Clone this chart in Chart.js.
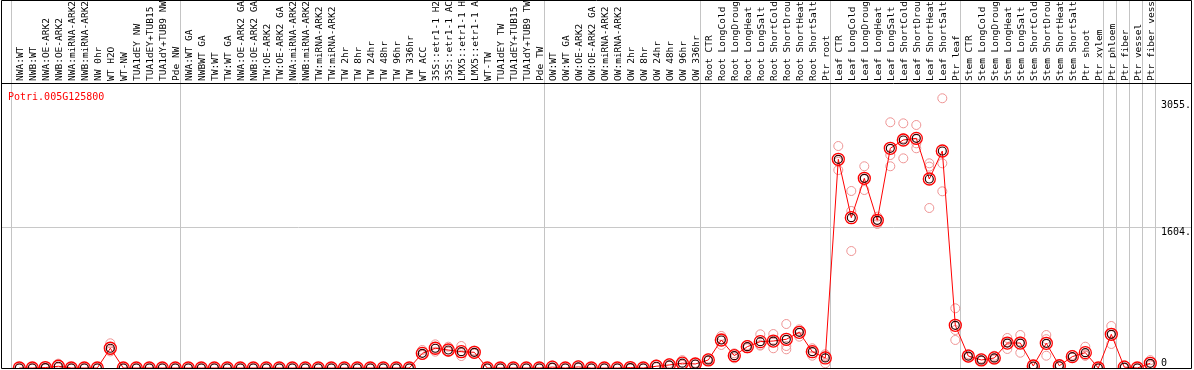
<!DOCTYPE html>
<html lang="en">
<head>
<meta charset="UTF-8">
<title>Potri.005G125800 expression</title>
<script src="https://cdn.jsdelivr.net/npm/chart.js"></script>
<style>
  html, body { margin: 0; padding: 0; background: #fff; }
  canvas { display: block; }
</style>
</head>
<body>
<canvas id="expr" width="1194" height="370"></canvas>
<script>
const geneName = 'Potri.005G125800';

const samples = [
  'NWA:WT', 'NWB:WT', 'NWA:OE-ARK2', 'NWB:OE-ARK2', 'NWA:miRNA-ARK2', 'NWB:miRNA-ARK2', 'NW 0hr',
  'WT H2O', 'WT-NW', 'TUA1dEY NW', 'TUA1dEY+TUB15 NW', 'TUA1dY+TUB9 NW', 'Pde NW',
  'NWA:WT GA', 'NWBWT GA', 'TW:WT', 'TW:WT GA', 'NWA:OE-ARK2 GA', 'NWB:OE-ARK2 GA', 'TW:OE-ARK2',
  'TW:OE-ARK2 GA', 'NWA:miRNA-ARK2', 'NWB:miRNA-ARK2', 'TW:miRNA-ARK2', 'TW:miRNA-ARK2',
  'TW 2hr', 'TW 8hr', 'TW 24hr', 'TW 48hr', 'TW 96hr', 'TW 336hr', 'WT ACC',
  '35S::etr1-1 H2O', '35S::etr1-1 ACC', 'LMX5::etr1-1 H2O', 'LMX5::etr1-1 ACC', 'WT-TW',
  'TUA1dEY TW', 'TUA1dEY+TUB15 TW', 'TUA1dY+TUB9 TW', 'Pde TW',
  'OW:WT', 'OW:WT GA', 'OW:OE-ARK2', 'OW:OE-ARK2 GA', 'OW:miRNA-ARK2', 'OW:miRNA-ARK2',
  'OW 2hr', 'OW 8hr', 'OW 24hr', 'OW 48hr', 'OW 96hr', 'OW 336hr',
  'Root CTR', 'Root LongCold', 'Root LongDrought', 'Root LongHeat', 'Root LongSalt',
  'Root ShortCold', 'Root ShortDrought', 'Root ShortHeat', 'Root ShortSalt', 'Ptr root',
  'Leaf CTR', 'Leaf LongCold', 'Leaf LongDrought', 'Leaf LongHeat', 'Leaf LongSalt',
  'Leaf ShortCold', 'Leaf ShortDrought', 'Leaf ShortHeat', 'Leaf ShortSalt', 'Ptr leaf',
  'Stem CTR', 'Stem LongCold', 'Stem LongDrought', 'Stem LongHeat', 'Stem LongSalt',
  'Stem ShortCold', 'Stem ShortDrought', 'Stem ShortHeat', 'Stem ShortSalt', 'Ptr shoot',
  'Ptr xylem', 'Ptr phloem', 'Ptr fiber', 'Ptr vessel', 'Ptr fiber vessel'
];

// mean expression per sample
const means = [
  0, 0, 5, 20, 0, 0, 0, 226, 0, 0, 0, 0, 0,
  0, 0, 0, 0, 0, 0, 0, 0, 0, 0, 0, 0, 0, 0, 0, 0, 0, 0, 168, 226, 206, 187, 180, 0, 0, 0, 0, 0,
  10, 0, 12, 0, 0, 0, 5, 0, 20, 35, 55, 46,
  92, 321, 141, 244, 302, 309, 329, 409, 187, 115,
  2391, 1722, 2173, 1692, 2517, 2612, 2631, 2165, 2486, 489,
  137, 92, 115, 286, 286, 23, 283, 26, 130, 176,
  0, 386, 10, 0, 54
];

// replicates
const rep1 = [
  0, 0, 15, 50, 0, 0, 0, 283, 0, 0, 0, 0, 0,
  0, 0, 0, 0, 0, 0, 0, 0, 0, 0, 0, 0, 0, 0, 0, 0, 0, 0, 206, 271, 244, 252, 200, 0, 0, 0, 0, 0,
  30, 0, 30, 0, 0, 0, 15, 0, 40, 55, 90, 60,
  110, 367, 168, 264, 386, 389, 504, 443, 226, 157,
  2543, 2028, 2311, 1734, 2815, 2803, 2784, 2345, 3090, 684,
  160, 110, 140, 344, 378, 40, 378, 40, 150, 244,
  0, 481, 34, 0, 90
];
const rep2 = [
  0, 0, 0, 5, 0, 0, 0, 206, 0, 0, 0, 0, 0,
  0, 0, 0, 0, 0, 0, 0, 0, 0, 0, 0, 0, 0, 0, 0, 0, 0, 0, 149, 187, 187, 137, 165, 0, 0, 0, 0, 0,
  0, 0, 5, 0, 0, 0, 0, 0, 10, 25, 40, 40,
  85, 330, 141, 226, 256, 226, 252, 359, 141, 54,
  2268, 1799, 2039, 1650, 2440, 2402, 2517, 2307, 2345, 435,
  130, 85, 110, 218, 305, 15, 330, 20, 120, 141,
  0, 275, 0, 0, 40
];
const rep3 = [
  0, 0, 0, 5, 0, 0, 0, 190, 0, 0, 0, 0, 0,
  0, 0, 0, 0, 0, 0, 0, 0, 0, 0, 0, 0, 0, 0, 0, 0, 0, 0, 150, 220, 190, 172, 175, 0, 0, 0, 0, 0,
  0, 0, 0, 0, 0, 0, 0, 0, 10, 25, 35, 38,
  80, 264, 111, 242, 264, 312, 214, 425, 194, 134,
  2362, 1340, 2169, 1692, 2311, 2631, 2574, 1833, 2024, 321,
  120, 80, 95, 296, 175, 15, 141, 18, 120, 143,
  0, 402, 0, 0, 30
];

// first sample index of each group (separator drawn before it)
const groupStarts = [0, 13, 41, 53, 63, 73, 84, 85, 86, 87, 88];

const yTickValues = [0, 1604, 3055];
const yTickLabels = ['0', '1604.', '3055.'];

const pts = arr => arr.map((v, i) => ({ x: i, y: v }));
const mono = 'DejaVu Sans Mono';

// no extra margins for overhanging tick labels
const noPad = s => { s.paddingLeft = 0; s.paddingRight = 0; s.paddingTop = 0; s.paddingBottom = 0; };

const framePlugin = {
  id: 'frame',
  beforeDatasetsDraw(chart) {
    const ctx = chart.ctx, xs = chart.scales.x, area = chart.chartArea;
    ctx.save();
    ctx.strokeStyle = '#c4c4c4';
    ctx.lineWidth = 1;
    ctx.beginPath();
    groupStarts.forEach(k => {
      const x = Math.round(xs.getPixelForValue(k - 0.62)) + 0.5;
      ctx.moveTo(x, 0);
      ctx.lineTo(x, area.bottom);
    });
    ctx.stroke();
    ctx.restore();
  },
  afterDraw(chart) {
    const ctx = chart.ctx, area = chart.chartArea;
    ctx.save();
    ctx.strokeStyle = '#000';
    ctx.lineWidth = 1;
    ctx.beginPath();
    ctx.rect(area.left + 0.5, 0.5, area.right - area.left, area.bottom);
    ctx.moveTo(area.left, area.top + 0.5);
    ctx.lineTo(area.right, area.top + 0.5);
    ctx.stroke();
    ctx.fillStyle = '#ff0000';
    ctx.font = '10px "' + mono + '"';
    ctx.textBaseline = 'middle';
    ctx.fillText(geneName, 8, 97);
    ctx.restore();
  }
};

const repStyle = {
  showLine: false,
  pointRadius: 4.5,
  pointBorderWidth: 1,
  pointBorderColor: '#ee9494',
  pointBackgroundColor: 'transparent',
  order: 3
};

new Chart(document.getElementById('expr'), {
  type: 'line',
  data: {
    datasets: [
      Object.assign({ label: 'rep1', data: pts(rep1) }, repStyle),
      Object.assign({ label: 'rep2', data: pts(rep2) }, repStyle),
      Object.assign({ label: 'rep3', data: pts(rep3) }, repStyle),
      {
        label: geneName,
        data: pts(means),
        borderColor: '#ff0000',
        borderWidth: 1,
        tension: 0,
        pointRadius: 6,
        pointBorderWidth: 1.3,
        pointBorderColor: '#ff0000',
        pointBackgroundColor: 'transparent',
        order: 2
      },
      {
        label: 'mean',
        data: pts(means),
        showLine: false,
        pointRadius: 4,
        pointBorderWidth: 1.2,
        pointBorderColor: '#300000',
        pointBackgroundColor: 'transparent',
        order: 1
      }
    ]
  },
  options: {
    responsive: false,
    animation: false,
    layout: { autoPadding: false, padding: { left: 1, right: 3, top: 0, bottom: 2 } },
    plugins: { legend: { display: false }, tooltip: { enabled: false } },
    scales: {
      x: {
        type: 'linear',
        position: 'top',
        min: -1.408,
        max: 90.13,
        afterFit: s => { s.height = 83; noPad(s); },
        grid: { display: false, drawTicks: false },
        border: { display: false },
        ticks: {
          stepSize: 1,
          autoSkip: false,
          minRotation: 90,
          maxRotation: 90,
          padding: 2,
          labelOffset: 12.5,
          color: '#000',
          font: { family: mono, size: 9.5 },
          callback: v => {
            const i = Math.round(v);
            return Math.abs(v - i) < 1e-6 && i >= 0 && i < samples.length ? samples[i] : '';
          }
        }
      },
      y: {
        position: 'right',
        min: 0,
        max: 3265,
        afterBuildTicks: s => { s.ticks = yTickValues.map(v => ({ value: v })); },
        afterFit: noPad,
        grid: {
          drawTicks: false,
          color: c => (c.tick && c.tick.value === yTickValues[1]) ? '#c8c8c8' : 'rgba(0,0,0,0)'
        },
        border: { display: false },
        ticks: {
          mirror: true,
          crossAlign: 'far',
          padding: 0,
          labelOffset: 4,
          color: '#000',
          font: { family: mono, size: 10, lineHeight: 1.8 },
          callback: v => {
            const i = yTickValues.indexOf(v);
            return i === 0 ? [yTickLabels[0], ''] : yTickLabels[i];
          }
        }
      }
    }
  },
  plugins: [framePlugin]
});
</script>
</body>
</html>
